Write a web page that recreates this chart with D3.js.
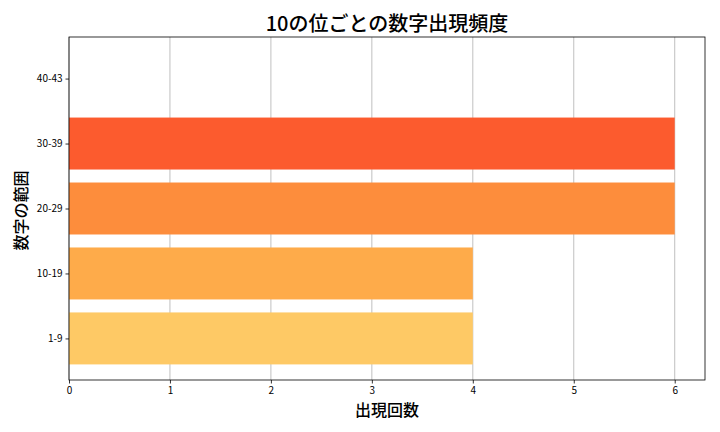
<!DOCTYPE html>
<html><head><meta charset="utf-8">
<script src="https://cdn.jsdelivr.net/npm/d3@7"></script>
<style>body{margin:0;background:#fff}svg{display:block}text{font-family:"Noto Sans CJK JP","Noto Sans",sans-serif}</style>
</head><body>
<svg id="c" width="720" height="432"></svg>
<script>
const categories = ["1-9","10-19","20-29","30-39","40-43"];
const counts = [4,4,6,6,0];
const barColors = ["#fec965","#feab4a","#fd8d3c","#fc5b2e","#e0311f"];
const xTicks = [0,1,2,3,4,5,6];
const title = "10の位ごとの数字出現頻度";
const xLabel = "出現回数";
const yLabel = "数字の範囲";

const svg = d3.select("#c");
const L=69, R=705, T=37, B=380;
const x = d3.scaleLinear().domain([0,6.3]).range([L,R]);
const y = d3.scaleLinear().domain([-0.64,4.64]).range([B,T]);

// grid
svg.append("g").selectAll("line").data(xTicks).join("line")
  .attr("x1",d=>x(d)).attr("x2",d=>x(d)).attr("y1",T).attr("y2",B)
  .attr("stroke","#b0b0b0").attr("stroke-width",0.8);

svg.append("g").selectAll("rect").data(counts).join("rect")
  .attr("x",x(0)).attr("width",d=>x(d)-x(0))
  .attr("y",(d,i)=>y(i+0.4)).attr("height",(d,i)=>y(i-0.4)-y(i+0.4))
  .attr("fill",(d,i)=>barColors[i]);

const xa = svg.append("g").attr("transform",`translate(0,${B})`)
  .call(d3.axisBottom(x).tickValues(xTicks).tickSize(3.5).tickPadding(3).tickFormat(d3.format("d")));
const ya = svg.append("g").attr("transform",`translate(${L},0)`)
  .call(d3.axisLeft(y).tickValues(d3.range(categories.length)).tickSize(3.5).tickPadding(3).tickFormat(i=>categories[i]));
[xa,ya].forEach(a=>{a.select(".domain").remove();a.selectAll("text").attr("font-size",10).attr("fill","#000");a.selectAll("line").attr("stroke","#000").attr("stroke-width",0.8);});

svg.append("rect").attr("x",L).attr("y",T).attr("width",R-L).attr("height",B-T)
  .attr("fill","none").attr("stroke","#000").attr("stroke-width",0.8);

svg.append("text").attr("x",(L+R)/2).attr("y",31).attr("text-anchor","middle").attr("font-size",20).attr("font-weight",500).text(title);
svg.append("text").attr("x",(L+R)/2).attr("y",415.5).attr("text-anchor","middle").attr("font-size",16).attr("font-weight",500).text(xLabel);
svg.append("text").attr("transform",`translate(27,${(T+B)/2+2}) rotate(-90)`).attr("text-anchor","middle").attr("font-size",16).attr("font-weight",500).text(yLabel);
</script>
</body></html>
